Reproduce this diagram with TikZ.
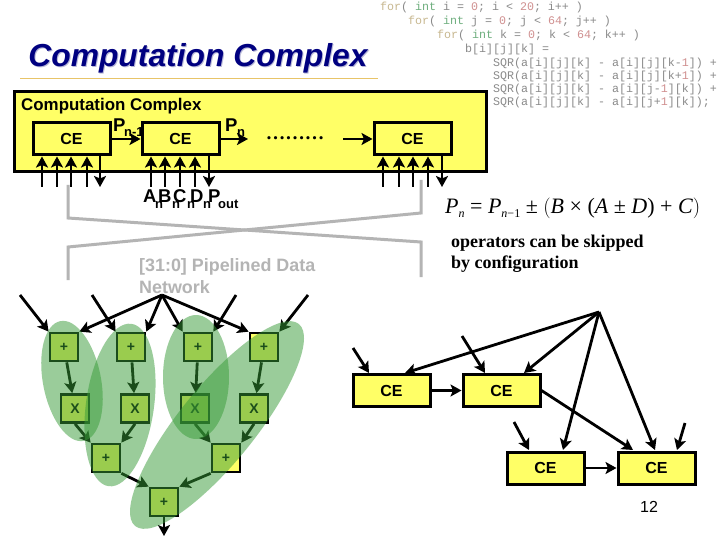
\documentclass[tikz,border=0pt]{standalone}
\usepackage{fontspec}
\setmainfont{Liberation Sans}
\newfontfamily\timesfont{Liberation Serif}
\newfontfamily\codefont{Liberation Mono}
\usetikzlibrary{arrows.meta}
\definecolor{boxyellow}{HTML}{FFFF66}
\definecolor{titleblue}{HTML}{000080}
\definecolor{titleshadow}{HTML}{B8B8D8}
\definecolor{ruletan}{HTML}{E8C468}
\definecolor{netgray}{HTML}{B4B4B4}
\definecolor{groupgreen}{RGB}{55,155,55}
\definecolor{codegray}{HTML}{8A8A8A}
\definecolor{codegreen}{HTML}{6FAF7F}
\definecolor{codetan}{HTML}{C8B890}
\definecolor{codered}{HTML}{D09090}
\tikzset{
  cebox/.style={draw, fill=boxyellow, line width=3pt, minimum width=77pt, minimum height=32pt, inner sep=0pt, font=\fontsize{16}{16}\selectfont\bfseries},
  opbox/.style={draw, fill=boxyellow, line width=2.7pt, minimum width=28pt, minimum height=28pt, inner sep=0pt, font=\fontsize{14}{14}\selectfont\bfseries},
  sigline/.style={line width=2.8pt, -{Stealth[length=11pt,width=12pt,inset=2.5pt]}},
  netline/.style={netgray, line width=3pt},
  codeline/.style={anchor=west, inner sep=0pt, font=\fontsize{11.65}{12}\codefont, codegray},
  lab/.style={inner sep=0pt, anchor=base west, font=\fontsize{18.5}{18}\selectfont\bfseries},
  sublab/.style={inner sep=0pt, anchor=base west, font=\fontsize{13}{13}\selectfont\bfseries},
  group/.style={groupgreen, fill opacity=0.5}
}
\newcommand{\subn}[1]{\raisebox{-4pt}{\fontsize{12}{12}\selectfont\textit{#1}}}
\begin{document}
\begin{tikzpicture}[x=1pt, y=-1pt]
  \useasboundingbox (0, 0) rectangle (720, 540);
  \fill[white] (0, 0) rectangle (720, 540);

  % --- Headline ---
  \node[font=\fontsize{31.8}{32}\selectfont\bfseries\itshape, titleshadow, inner sep=0pt] (titleback) at (199, 59) {Computation Complex};
  \node[font=\fontsize{31.8}{32}\selectfont\bfseries\itshape, titleblue, inner sep=0pt] (title) at (198, 58) {Computation Complex};
  \draw[ruletan, line width=1pt] (20, 79) -- (378, 79);

  % --- Source code ---
  \node[codeline] (code1) at (380, 7.5) {\textcolor{codetan}{for}( \textcolor{codegreen}{int} i = \textcolor{codered}{0}; i < \textcolor{codered}{20}; i++ )};
  \node[codeline] (code2) at (408, 21.5) {\textcolor{codetan}{for}( \textcolor{codegreen}{int} j = \textcolor{codered}{0}; j < \textcolor{codered}{64}; j++ )};
  \node[codeline] (code3) at (437, 35) {\textcolor{codetan}{for}( \textcolor{codegreen}{int} k = \textcolor{codered}{0}; k < \textcolor{codered}{64}; k++ )};
  \node[codeline] (code4) at (465, 49) {b[i][j][k] =};
  \node[codeline] (code5) at (493, 63) {SQR(a[i][j][k] - a[i][j][k-\textcolor{codered}{1}]) +};
  \node[codeline] (code6) at (493, 76) {SQR(a[i][j][k] - a[i][j][k+\textcolor{codered}{1}]) +};
  \node[codeline] (code7) at (493, 89) {SQR(a[i][j][k] - a[i][j-\textcolor{codered}{1}][k]) +};
  \node[codeline] (code8) at (493, 102) {SQR(a[i][j][k] - a[i][j+\textcolor{codered}{1}][k]);};

  % --- Computation complex ---
  \draw[fill=boxyellow, line width=3pt] (14, 92) rectangle (486, 172);
  \node[lab, font=\fontsize{16.9}{17}\selectfont\bfseries] (complex) at (21, 111) {Computation Complex};
  \node[cebox] (ce1) at (71.5, 139) {CE};
  \node[cebox] (ce2) at (180.5, 139) {CE};
  \node[cebox] (ce3) at (412.5, 139) {CE};
  \node[inner sep=0pt, font=\fontsize{19.5}{20}\timesfont\bfseries] (dots) at (295, 138) {………};
  \coordinate (pnout) at (248, 139);
  \coordinate (pnin) at (343, 139);
  \draw[sigline] (ce1) -- (ce2);
  \draw[sigline] (ce2) -- (pnout);
  \draw[sigline] (pnin) -- (ce3);

  % --- Pins of the three elements ---
  \foreach \px/\pname in {42/ce1, 57/ce1, 71/ce1, 87/ce1, 151/ce2, 165/ce2, 180/ce2, 195/ce2, 383/ce3, 399/ce3, 413/ce3, 428/ce3} {
    \coordinate (pin) at (\px, 187);
    \draw[sigline] (pin) -- (pin |- \pname.south);
  }
  \foreach \px/\pname in {100/ce1, 209/ce2, 442/ce3} {
    \coordinate (pin) at (\px, 187);
    \draw[sigline] (pin |- \pname.south) -- (pin);
  }

  % --- Labels on the links and pins ---
  \node[lab] (pnm) at (113, 132) {P};
  \node[sublab] (pnmsub) at (124, 137) {n-1};
  \node[lab] (pn) at (225, 132) {P};
  \node[sublab] (pnsub) at (237, 137) {n};
  \node[lab] (an) at (143, 203) {A};
  \node[sublab] (ansub) at (155, 209) {n};
  \node[lab] (bn) at (158, 203) {B};
  \node[sublab] (bnsub) at (172, 209) {n};
  \node[lab] (cn) at (173, 203) {C};
  \node[sublab] (cnsub) at (187, 209) {n};
  \node[lab] (dn) at (190, 203) {D};
  \node[sublab] (dnsub) at (203, 209) {n};
  \node[lab] (pout) at (208, 203) {P};
  \node[sublab] (poutsub) at (218, 209) {out};

  % --- Pipelined data network ---
  \coordinate (netaa) at (68, 185);
  \coordinate (netab) at (68, 218);
  \coordinate (netac) at (421, 242);
  \coordinate (netad) at (421, 277);
  \coordinate (netba) at (421, 180);
  \coordinate (netbb) at (421, 213);
  \coordinate (netbc) at (68, 247);
  \coordinate (netbd) at (68, 280);
  \draw[netline] (netaa) -- (netab) -- (netac) -- (netad);
  \draw[netline] (netba) -- (netbb) -- (netbc) -- (netbd);
  \node[anchor=north west, align=left, inner sep=0pt, netgray, font=\fontsize{17.9}{22}\selectfont\bfseries] (netlabel) at (139, 258) {[31:0] Pipelined Data\\Network};

  % --- Formula and remark ---
  \node[anchor=west, inner sep=0pt, font=\fontsize{22}{22}\timesfont] (formula) at (445, 208) {\textit{P}\subn{n} = \textit{P}\subn{n}\raisebox{-4pt}{\fontsize{12}{12}\selectfont −1} ± $\Bigl($\textit{B} × (\textit{A} ± \textit{D}) + \textit{C}$\Bigr)$};
  \node[anchor=north west, align=left, inner sep=0pt, font=\fontsize{18}{21}\timesfont\bfseries] (remark) at (451, 235) {operators can be skipped\\by configuration};

  % --- Operator tree ---
  \coordinate (hubl) at (162, 295);
  \node[opbox] (p1) at (64, 347) {+};
  \node[opbox] (p2) at (131, 347) {+};
  \node[opbox] (p3) at (198, 347) {+};
  \node[opbox] (p4) at (264, 347) {+};
  \node[opbox] (x1) at (75, 408.5) {X};
  \node[opbox] (x2) at (135, 408.5) {X};
  \node[opbox] (x3) at (195, 408.5) {X};
  \node[opbox] (x4) at (254, 408.5) {X};
  \node[opbox] (r1) at (106, 458) {+};
  \node[opbox] (r2) at (226, 458) {+};
  \node[opbox] (s1) at (164, 502) {+};
  \coordinate (in1) at (20, 295);
  \coordinate (in2) at (92, 295);
  \coordinate (in3) at (236, 295);
  \coordinate (in4) at (308, 295);
  \coordinate (treeout) at (164, 536);
  \draw[sigline] (hubl) -- (p1.north east);
  \draw[sigline] (hubl) -- (p2.north east);
  \draw[sigline] (hubl) -- (p3.north west);
  \draw[sigline] (hubl) -- (p4.north west);
  \draw[sigline] (in1) -- (p1.north west);
  \draw[sigline] (in2) -- (p2.north west);
  \draw[sigline] (in3) -- (p3.north east);
  \draw[sigline] (in4) -- (p4.north east);
  \draw[sigline] (p1) -- (x1);
  \draw[sigline] (p2) -- (x2);
  \draw[sigline] (p3) -- (x3);
  \draw[sigline] (p4) -- (x4);
  \draw[sigline] (x1.south) -- (r1.north west);
  \draw[sigline] (x2.south) -- (r1.north east);
  \draw[sigline] (x3.south) -- (r2.north west);
  \draw[sigline] (x4.south) -- (r2.north east);
  \draw[sigline] (r1.south east) -- (s1.north west);
  \draw[sigline] (r2.south west) -- (s1.north east);
  \draw[sigline] (s1) -- (treeout);

  % --- Green groups over the tree ---
  \fill[group, rotate around={-79:(72, 381)}] (72, 381) ellipse [x radius=61, y radius=29];
  \fill[group, rotate around={82:(120, 405)}] (120, 405) ellipse [x radius=82, y radius=34];
  \fill[group, rotate around={90:(196, 377)}] (196, 377) ellipse [x radius=62, y radius=33];
  \fill[group, rotate around={51:(217, 425)}] (217, 425) ellipse [x radius=130, y radius=38];

  % --- Mapping onto the elements ---
  \coordinate (hubr) at (599, 312);
  \node[cebox] (m1) at (391.5, 390.5) {CE};
  \node[cebox] (m2) at (501.5, 390.5) {CE};
  \node[cebox] (m3) at (545.5, 468) {CE};
  \node[cebox] (m4) at (656.5, 468) {CE};
  \coordinate (min1) at (353, 348);
  \coordinate (min2) at (462, 336);
  \coordinate (min3) at (514, 422);
  \coordinate (min4) at (685, 423);
  \coordinate (m1top) at (405, 373);
  \coordinate (m2top) at (524, 373);
  \coordinate (m3top) at (563, 450);
  \coordinate (m4top) at (655, 450);
  \coordinate (m1pin) at (369, 373);
  \coordinate (m2pin) at (485, 373);
  \coordinate (m3pin) at (529, 450);
  \coordinate (m4pin) at (677, 450);
  \coordinate (m4cross) at (633, 450);
  \draw[sigline] (hubr) -- (m1top);
  \draw[sigline] (hubr) -- (m2top);
  \draw[sigline] (hubr) -- (m3top);
  \draw[sigline] (hubr) -- (m4top);
  \draw[sigline] (min1) -- (m1pin);
  \draw[sigline] (min2) -- (m2pin);
  \draw[sigline] (min3) -- (m3pin);
  \draw[sigline] (min4) -- (m4pin);
  \draw[sigline] (m1) -- (m2);
  \draw[sigline] (m3) -- (m4);
  \draw[sigline] (m2.east) -- (m4cross);

  % --- Page number ---
  \node[inner sep=0pt, font=\fontsize{16}{16}\selectfont] (pageno) at (649, 507) {12};
\end{tikzpicture}
\end{document}
